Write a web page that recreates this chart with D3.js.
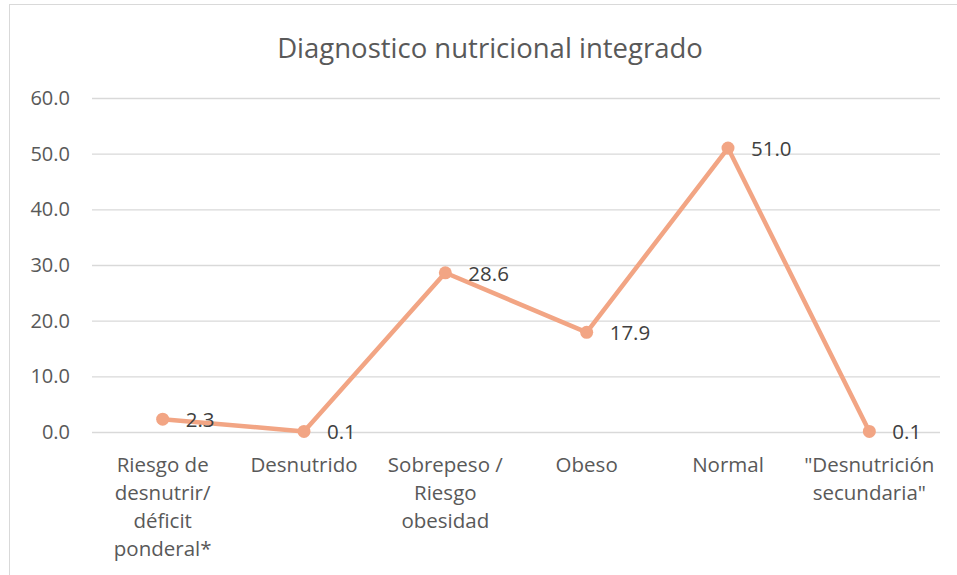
<!DOCTYPE html>
<html>
<head>
<meta charset="utf-8">
<script src="https://cdn.jsdelivr.net/npm/d3@7"></script>
<style>
  body { margin: 0; background: #fff; }
  svg text { font-family: "Open Sans", Lato, sans-serif; }
</style>
</head>
<body>
<svg id="chart" width="957" height="575"></svg>
<script>
const categories = [
  ["Riesgo de", "desnutrir/", "déficit", "ponderal*"],
  ["Desnutrido"],
  ["Sobrepeso /", "Riesgo", "obesidad"],
  ["Obeso"],
  ["Normal"],
  ["\"Desnutrición", "secundaria\""]
];
const values = [2.3, 0.1, 28.6, 17.9, 51.0, 0.1];
const yTicks = [0, 10, 20, 30, 40, 50, 60];
const LINE_COLOR = "#F2A584";
const TEXT_COLOR = "#595959";
const FONT = "'Open Sans', Lato, sans-serif";

const svg = d3.select("#chart");

// chart area border
svg.append("rect")
  .attr("x", 9.5).attr("y", 4.5)
  .attr("width", 960).attr("height", 580)
  .attr("fill", "#fff")
  .attr("stroke", "#d9d9d9")
  .attr("stroke-width", 1);

const margin = { left: 92, right: 17, top: 98, bottom: 143 };
const W = 957, H = 575;

const x = d3.scaleBand()
  .domain(d3.range(values.length))
  .range([margin.left, W - margin.right]);

const y = d3.scaleLinear()
  .domain([0, 60])
  .range([H - margin.bottom, margin.top]);

// title
svg.append("text")
  .attr("x", 490).attr("y", 58)
  .attr("text-anchor", "middle")
  .attr("font-size", 27.5)
  .attr("fill", TEXT_COLOR)
  .text("Diagnostico nutricional integrado");

// gridlines + y labels
const yAxis = d3.axisLeft(y)
  .tickValues(yTicks)
  .tickSize(-(W - margin.left - margin.right))
  .tickPadding(22)
  .tickFormat(d3.format(".1f"));

svg.append("g")
  .attr("transform", `translate(${margin.left},0)`)
  .call(yAxis)
  .call(g => g.select(".domain").remove())
  .call(g => g.selectAll(".tick line").attr("stroke", "#d9d9d9").attr("stroke-width", 1.3))
  .call(g => g.selectAll(".tick text")
    .attr("font-size", 20)
    .attr("fill", TEXT_COLOR)
    .attr("font-family", FONT));

// category labels
const cx = i => x(i) + x.bandwidth() / 2;
const cat = svg.append("g");
categories.forEach((lines, i) => {
  const t = cat.append("text")
    .attr("x", cx(i))
    .attr("y", y(0) + 40)
    .attr("text-anchor", "middle")
    .attr("font-size", 20.5)
    .attr("fill", TEXT_COLOR);
  lines.forEach((ln, j) => {
    t.append("tspan")
      .attr("x", cx(i))
      .attr("dy", j === 0 ? 0 : 28)
      .text(ln);
  });
});

// line
const line = d3.line()
  .x((d, i) => cx(i))
  .y(d => y(d));

svg.append("path")
  .datum(values)
  .attr("d", line)
  .attr("fill", "none")
  .attr("stroke", LINE_COLOR)
  .attr("stroke-width", 4.5)
  .attr("stroke-linejoin", "round");

svg.append("g")
  .selectAll("circle")
  .data(values)
  .join("circle")
  .attr("cx", (d, i) => cx(i))
  .attr("cy", d => y(d))
  .attr("r", 6.5)
  .attr("fill", LINE_COLOR);

// data labels
svg.append("g")
  .selectAll("text")
  .data(values)
  .join("text")
  .attr("x", (d, i) => cx(i) + 23)
  .attr("y", d => y(d) + 8)
  .attr("font-size", 20.5)
  .attr("fill", "#404040")
  .text(d => d3.format(".1f")(d));
</script>
</body>
</html>
